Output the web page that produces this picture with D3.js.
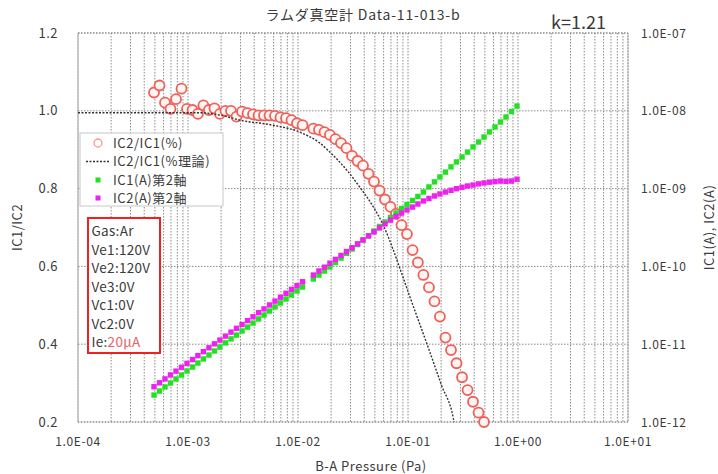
<!DOCTYPE html>
<html>
<head>
<meta charset="utf-8">
<script src="https://cdn.jsdelivr.net/npm/d3@7"></script>
<style>
  body { margin: 0; background: #fff; }
  text { font-family: "Noto Sans CJK JP", "Noto Sans", sans-serif; fill: #3a3a3a; }
</style>
</head>
<body>
<svg id="chart" width="718" height="474"></svg>
<script>
// pressure (Pa), one point missing near 1.2E-02
var pressure = [
  4.91e-4, 5.51e-4, 6.18e-4, 6.93e-4, 7.78e-4, 8.73e-4, 9.79e-4, 1.10e-3, 1.23e-3, 1.38e-3,
  1.55e-3, 1.74e-3, 1.95e-3, 2.19e-3, 2.46e-3, 2.76e-3, 3.10e-3, 3.48e-3, 3.90e-3, 4.38e-3,
  4.91e-3, 5.51e-3, 6.18e-3, 6.93e-3, 7.78e-3, 8.73e-3, 9.79e-3, 1.10e-2,
  1.38e-2, 1.55e-2, 1.74e-2, 1.95e-2, 2.19e-2, 2.46e-2, 2.76e-2, 3.10e-2, 3.48e-2, 3.90e-2,
  4.38e-2, 4.91e-2, 5.51e-2, 6.18e-2, 6.93e-2, 7.78e-2, 8.73e-2, 9.79e-2, 1.10e-1, 1.23e-1,
  1.38e-1, 1.55e-1, 1.74e-1, 1.95e-1, 2.19e-1, 2.46e-1, 2.76e-1, 3.10e-1, 3.48e-1, 3.90e-1,
  4.38e-1, 4.91e-1, 5.51e-1, 6.18e-1, 6.93e-1, 7.78e-1, 8.73e-1, 9.79e-1
];
// IC2/IC1 measured (null = below axis)
var ratio = [
  1.047, 1.065, 1.021, 1.005, 1.030, 1.057, 1.005, 1.002, 0.992, 1.014,
  1.002, 1.006, 0.992, 1.000, 1.000, 0.985, 0.998, 0.994, 0.991, 0.988,
  0.988, 0.988, 0.987, 0.983, 0.981, 0.976, 0.968, 0.963,
  0.954, 0.951, 0.945, 0.938, 0.927, 0.917, 0.904, 0.884, 0.871, 0.859,
  0.838, 0.818, 0.795, 0.772, 0.753, 0.735, 0.706, 0.683, 0.642, 0.610,
  0.578, 0.546, 0.510, 0.471, 0.417, 0.385, 0.351, 0.315, 0.282, 0.252,
  0.224, 0.200, null, null, null, null, null, null
];
// IC1 (A), second axis
var ic1 = [
  2.22e-12, 2.50e-12, 2.82e-12, 3.17e-12, 3.57e-12, 4.02e-12, 4.53e-12, 5.09e-12, 5.73e-12, 6.46e-12,
  7.26e-12, 8.18e-12, 9.20e-12, 1.04e-11, 1.17e-11, 1.31e-11, 1.48e-11, 1.66e-11, 1.87e-11, 2.11e-11,
  2.37e-11, 2.67e-11, 3.01e-11, 3.39e-11, 3.81e-11, 4.29e-11, 4.83e-11, 5.43e-11,
  6.89e-11, 7.74e-11, 8.73e-11, 9.82e-11, 1.12e-10, 1.28e-10, 1.47e-10, 1.67e-10, 1.91e-10, 2.18e-10,
  2.49e-10, 2.85e-10, 3.26e-10, 3.72e-10, 4.26e-10, 4.85e-10, 5.55e-10, 6.25e-10, 7.03e-10, 7.93e-10,
  9.04e-10, 1.05e-9, 1.22e-9, 1.41e-9, 1.63e-9, 1.90e-9, 2.20e-9, 2.55e-9, 2.95e-9, 3.43e-9,
  3.97e-9, 4.60e-9, 5.35e-9, 6.19e-9, 7.18e-9, 8.32e-9, 9.79e-9, 1.15e-8
];
// IC2 (A), second axis
var ic2 = [
  2.84e-12, 3.19e-12, 3.58e-12, 4.02e-12, 4.51e-12, 5.06e-12, 5.66e-12, 6.35e-12, 7.13e-12, 8.02e-12,
  8.99e-12, 1.01e-11, 1.13e-11, 1.27e-11, 1.43e-11, 1.60e-11, 1.79e-11, 2.01e-11, 2.25e-11, 2.54e-11,
  2.84e-11, 3.19e-11, 3.58e-11, 4.02e-11, 4.51e-11, 5.06e-11, 5.66e-11, 6.35e-11,
  7.74e-11, 8.73e-11, 9.77e-11, 1.10e-10, 1.23e-10, 1.38e-10, 1.55e-10, 1.74e-10, 1.95e-10, 2.19e-10,
  2.46e-10, 2.77e-10, 3.12e-10, 3.51e-10, 3.94e-10, 4.38e-10, 4.85e-10, 5.31e-10, 5.79e-10, 6.34e-10,
  6.93e-10, 7.46e-10, 8.04e-10, 8.53e-10, 9.04e-10, 9.51e-10, 9.98e-10, 1.04e-9, 1.08e-9, 1.11e-9,
  1.15e-9, 1.18e-9, 1.21e-9, 1.23e-9, 1.25e-9, 1.24e-9, 1.25e-9, 1.32e-9
];
// IC2/IC1 theory curve
var theoryP = [1e-4, 1.29e-3, 2.25e-3, 2.97e-3, 5.93e-3, 1.04e-2, 1.58e-2, 2.08e-2, 2.77e-2,
  3.66e-2, 4.84e-2, 5.96e-2, 7.35e-2, 9.06e-2, 1.04e-1, 1.53e-1, 2.02e-1, 2.58e-1, 2.62e-1];
var theoryR = [0.995, 0.995, 0.985, 0.976, 0.963, 0.945, 0.917, 0.886, 0.848,
  0.803, 0.753, 0.706, 0.642, 0.570, 0.522, 0.391, 0.294, 0.210, 0.200];

var xTicks = [1e-4, 1e-3, 1e-2, 1e-1, 1e0, 1e1];
var xTickLabels = ["1.0E-04", "1.0E-03", "1.0E-02", "1.0E-01", "1.0E+00", "1.0E+01"];
var yTicks = [0.2, 0.4, 0.6, 0.8, 1.0, 1.2];
var yTickLabels = ["0.2", "0.4", "0.6", "0.8", "1.0", "1.2"];
var y2Ticks = [1e-12, 1e-11, 1e-10, 1e-9, 1e-8, 1e-7];
var y2TickLabels = ["1.0E-12", "1.0E-11", "1.0E-10", "1.0E-09", "1.0E-08", "1.0E-07"];
var condLines = ["Gas:Ar", "Ve1:120V", "Ve2:120V", "Ve3:0V", "Vc1:0V", "Vc2:0V"];

var plotL = 78, plotR = 628, plotT = 33, plotB = 422;

var x = d3.scaleLog().domain([1e-4, 1e1]).range([plotL, plotR]);
var y = d3.scaleLinear().domain([0.2, 1.2]).range([plotB, plotT]);
var y2 = d3.scaleLog().domain([1e-12, 1e-7]).range([plotB, plotT]);

var svg = d3.select("#chart");
var gridCol = "#8a8a8a";

// grid
var g = svg.append("g");
g.selectAll("line.vx").data(x.ticks())
  .enter().append("line")
    .attr("x1", d => x(d)).attr("x2", d => x(d))
    .attr("y1", plotT).attr("y2", plotB)
    .attr("stroke", gridCol).attr("stroke-width", 1)
    .attr("stroke-dasharray", "1.5,1.5");
g.selectAll("line.hy").data(yTicks)
  .enter().append("line")
    .attr("x1", plotL).attr("x2", plotR)
    .attr("y1", d => y(d)).attr("y2", d => y(d))
    .attr("stroke", gridCol).attr("stroke-width", 1)
    .attr("stroke-dasharray", "1.5,1.5");
g.append("rect")
    .attr("x", plotL).attr("y", plotT)
    .attr("width", plotR - plotL).attr("height", plotB - plotT)
    .attr("fill", "none").attr("stroke", gridCol)
    .attr("stroke-dasharray", "1.5,1.5");

// tick labels
svg.append("g").selectAll("text").data(xTicks)
  .enter().append("text")
    .attr("x", d => x(d)).attr("y", 446)
    .attr("text-anchor", "middle")
    .attr("font-size", 12).attr("letter-spacing", 0.6)
    .text((d, i) => xTickLabels[i]);
svg.append("g").selectAll("text").data(yTicks)
  .enter().append("text")
    .attr("x", 58).attr("y", d => y(d) + 4.5)
    .attr("text-anchor", "end")
    .attr("font-size", 13).attr("letter-spacing", 0.5)
    .text((d, i) => yTickLabels[i]);
svg.append("g").selectAll("text").data(y2Ticks)
  .enter().append("text")
    .attr("x", 641).attr("y", d => y2(d) + 4.5)
    .attr("font-size", 12).attr("letter-spacing", 0.6)
    .text((d, i) => y2TickLabels[i]);

// axis titles
svg.append("text").attr("x", 371).attr("y", 471)
  .attr("text-anchor", "middle").attr("font-size", 13).attr("letter-spacing", 0.5)
  .text("B-A Pressure (Pa)");
svg.append("text")
  .attr("transform", "translate(22," + (plotT + plotB) / 2 + ") rotate(-90)")
  .attr("text-anchor", "middle").attr("font-size", 13).attr("letter-spacing", 0.5)
  .text("IC1/IC2");
svg.append("text")
  .attr("transform", "translate(714," + (plotT + plotB) / 2 + ") rotate(-90)")
  .attr("text-anchor", "middle").attr("font-size", 13).attr("letter-spacing", 0.5)
  .text("IC1(A), IC2(A)");
svg.append("text").attr("x", 363).attr("y", 20)
  .attr("text-anchor", "middle").attr("font-size", 14).attr("letter-spacing", 0.8)
  .text("ラムダ真空計 Data-11-013-b");
svg.append("text").attr("x", 551).attr("y", 29)
  .attr("font-size", 18)
  .text("k=1.21");

var pts = pressure.map((p, i) => ({p: p, r: ratio[i], a: ic1[i], b: ic2[i]}));

// measured ratio
svg.append("g").selectAll("circle").data(pts.filter(d => d.r != null))
  .enter().append("circle")
    .attr("cx", d => x(d.p)).attr("cy", d => y(d.r)).attr("r", 5)
    .attr("fill", "#fff6f4").attr("stroke", "#f0605a").attr("stroke-width", 1.8);

// theory
var line = d3.line().x(d => x(d[0])).y(d => y(d[1])).curve(d3.curveMonotoneX);
svg.append("path")
  .datum(theoryP.map((p, i) => [p, theoryR[i]]))
  .attr("d", line)
  .attr("fill", "none").attr("stroke", "#333").attr("stroke-width", 1.4)
  .attr("stroke-dasharray", "2,1.5");

// currents
svg.append("g").selectAll("rect").data(pts)
  .enter().append("rect")
    .attr("x", d => x(d.p) - 2.7).attr("y", d => y2(d.a) - 2.7)
    .attr("width", 5.4).attr("height", 5.4)
    .attr("fill", "#22e022");
svg.append("g").selectAll("rect").data(pts)
  .enter().append("rect")
    .attr("x", d => x(d.p) - 2.7).attr("y", d => y2(d.b) - 2.7)
    .attr("width", 5.4).attr("height", 5.4)
    .attr("fill", "#ee22ee");

// legend
var lg = svg.append("g");
lg.append("rect").attr("x", 80).attr("y", 133).attr("width", 143).attr("height", 73)
  .attr("fill", "#fff").attr("stroke", "#c8c8c8");
var legItems = ["IC2/IC1(%)", "IC2/IC1(%理論)", "IC1(A)第2軸", "IC2(A)第2軸"];
var legY = [143, 161.5, 180, 198];
lg.append("circle").attr("cx", 98).attr("cy", legY[0]).attr("r", 4)
  .attr("fill", "#fff").attr("stroke", "#f49a96").attr("stroke-width", 1.3);
lg.append("line").attr("x1", 86).attr("x2", 110).attr("y1", legY[1]).attr("y2", legY[1])
  .attr("stroke", "#333").attr("stroke-width", 1.4).attr("stroke-dasharray", "2,1.5");
lg.append("rect").attr("x", 95.5).attr("y", legY[2] - 2.5).attr("width", 5).attr("height", 5).attr("fill", "#22e022");
lg.append("rect").attr("x", 95.5).attr("y", legY[3] - 2.5).attr("width", 5).attr("height", 5).attr("fill", "#ee22ee");
lg.selectAll("text.leg").data(legItems)
  .enter().append("text")
    .attr("x", 113).attr("y", (d, i) => legY[i] + 4.6)
    .attr("font-size", 13).attr("letter-spacing", 0.55)
    .text(d => d);

// conditions box
var cb = svg.append("g");
cb.append("rect").attr("x", 88).attr("y", 218).attr("width", 72).attr("height", 135)
  .attr("fill", "#fff").attr("stroke", "#ee2222").attr("stroke-width", 2);
cb.selectAll("text.c").data(condLines)
  .enter().append("text")
    .attr("x", 91.5).attr("y", (d, i) => 236 + i * 18.5)
    .attr("font-size", 13.5).attr("letter-spacing", 0.3)
    .text(d => d);
var ie = cb.append("text").attr("x", 91.5).attr("y", 236 + 6 * 18.5)
  .attr("font-size", 13.5).attr("letter-spacing", 0.3);
ie.append("tspan").text("Ie:");
ie.append("tspan").style("fill", "#f06060").text("20µA");
</script>
</body>
</html>
